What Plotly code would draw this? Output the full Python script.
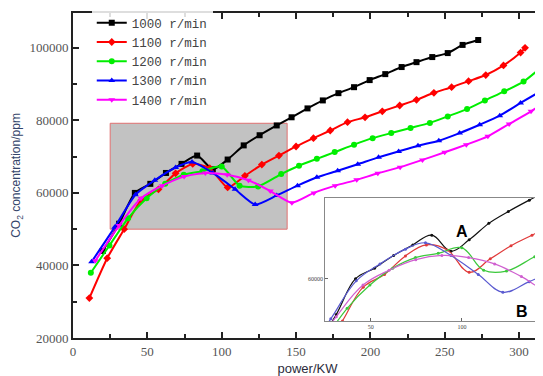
import plotly.graph_objects as go

# ---------------- data ----------------
names = ["1000 r/min", "1100 r/min", "1200 r/min", "1300 r/min", "1400 r/min"]

x1000 = [20, 31, 41.6, 52, 62.5, 73, 83.5, 94, 104, 114.8, 125.5, 137, 147, 157.7, 168,
         178.5, 189, 199.5, 210, 221, 231, 241.6, 252, 262, 272.5]
y1000 = [44000, 51500, 60000, 62500, 65500, 68000, 70300, 66500, 69200, 73100, 75900, 78600,
         80850, 83300, 85500, 87500, 89150, 91100, 92750, 94700, 96050, 97450, 98550, 100800, 102150]

x1100 = [11, 23, 34.4, 45.8, 57.5, 69, 80.5, 92, 104, 115.6, 127, 138.5, 150, 161.7, 173,
         184.6, 196.4, 208, 219.7, 231, 242.7, 254.6, 266, 277.6, 289.5, 301, 304]
y1100 = [31000, 42000, 50000, 58000, 61000, 65400, 68000, 66800, 61500, 64700, 67800, 70300,
         72800, 75100, 77200, 79500, 80850, 82500, 84100, 85650, 87600, 89150, 90800, 92500,
         95150, 98700, 100000]

x1200 = [12, 24.5, 37, 49.5, 62, 74.5, 87, 100, 112, 124.5, 140, 152, 164, 176, 189,
         201.5, 214, 227, 240, 252, 265, 277, 290, 303, 316]
y1200 = [38000, 45500, 53000, 58500, 62500, 65000, 66000, 67300, 62000, 61800, 65200, 67500,
         69400, 71250, 73300, 75100, 76500, 77900, 79300, 81100, 83100, 85500, 88000, 90700, 95000]

x1300 = [12.5, 28, 42, 55, 69, 80, 94, 109, 122.5, 137, 151, 164, 178, 191.5, 205.5, 219,
         232, 246, 260, 273.5, 287, 301, 316]
y1300 = [41000, 50500, 59500, 63500, 67000, 68500, 65500, 61000, 56800, 59300, 62000, 64300,
         66100, 67900, 69800, 71450, 73000, 74400, 76500, 78800, 81300, 84800, 88400]

x1400 = [15, 31, 45.7, 60, 74.7, 89, 103.7, 118, 132.7, 147.2, 162, 176.3, 190.8, 205, 220,
         235, 250, 264.5, 279, 293.3, 308, 316]
y1400 = [41300, 51000, 58500, 62000, 64500, 65500, 65000, 63500, 60500, 57300, 60000, 62000,
         63600, 65400, 67100, 69100, 71200, 73300, 75600, 79000, 82500, 84600]

xs = [x1000, x1100, x1200, x1300, x1400]
ys = [y1000, y1100, y1200, y1300, y1400]

x_ticks = [0, 50, 100, 150, 200, 250, 300]
y_ticks = [20000, 40000, 60000, 80000, 100000]
inset_x_ticks = [50, 100]
inset_y_ticks = [60000]
zoom_box_x = [25, 144]
zoom_box_y = [50000, 79200]

# ---------------- styles ----------------
main_colors = ["#000000", "#ff0000", "#00ee00", "#0000ff", "#ff00ff"]
inset_colors = ["#111111", "#e03a3a", "#3cc83c", "#5a5ad0", "#d060d0"]
symbols = ["square", "diamond", "circle", "triangle-up", "triangle-down"]

fig = go.Figure()

for i in range(5):
    fig.add_trace(go.Scatter(
        x=xs[i], y=ys[i], name=names[i], mode="lines+markers",
        line=dict(color=main_colors[i], width=2, shape="spline", smoothing=0.6),
        marker=dict(symbol=symbols[i], size=6, color=main_colors[i]),
        xaxis="x", yaxis="y",
    ))

# inset: magnified smooth curves
for i in range(5):
    fig.add_trace(go.Scatter(
        x=xs[i], y=ys[i], mode="lines+markers", showlegend=False,
        line=dict(color=inset_colors[i], width=1.2, shape="spline", smoothing=1.1),
        marker=dict(symbol="circle", size=3, color=inset_colors[i]),
        xaxis="x2", yaxis="y2", hoverinfo="skip",
    ))

fig.add_shape(type="rect", xref="x", yref="y",
              x0=zoom_box_x[0], x1=zoom_box_x[1], y0=zoom_box_y[0], y1=zoom_box_y[1],
              fillcolor="#c2c2c2", line=dict(color="#e07070", width=1), layer="below")

fig.add_annotation(x=100, y=71200, xref="x2", yref="y2", text="<b>A</b>", showarrow=False,
                   font=dict(family="Liberation Sans, Arial", size=16, color="#000"))
fig.add_annotation(x=133, y=52300, xref="x2", yref="y2", text="<b>B</b>", showarrow=False,
                   font=dict(family="Liberation Sans, Arial", size=16, color="#000"))

tickfont = dict(family="Liberation Serif, Times New Roman, serif", size=13, color="#555")
inset_tickfont = dict(family="Liberation Serif, serif", size=6, color="#444")

# the page body adds an 8px offset, so the figure is 8px smaller and margins shifted
fig.update_layout(
    width=535, height=368,
    margin=dict(l=65, r=0, t=4, b=32),
    paper_bgcolor="white", plot_bgcolor="white",
    xaxis=dict(range=[0, 315.4], tickvals=x_ticks, ticktext=[str(v) for v in x_ticks],
               ticks="inside", ticklen=6, tickwidth=1.5,
               tickcolor="#222", showline=True, linecolor="#222", linewidth=2, mirror="ticks",
               showgrid=False, zeroline=False, tickfont=tickfont,
               minor=dict(dtick=25, tick0=0, ticks="inside", ticklen=4, tickcolor="#222", showgrid=False),
               title=dict(text="power/KW", standoff=8,
                          font=dict(family="Liberation Sans, Arial", size=13, color="#2c2c3c"))),
    yaxis=dict(range=[20000, 109600], tickvals=y_ticks, ticktext=[str(v) for v in y_ticks],
               ticks="inside", ticklen=6, tickwidth=1.5,
               tickcolor="#222", showline=True, linecolor="#222", linewidth=2,
               showgrid=False, zeroline=False, tickfont=tickfont,
               minor=dict(dtick=10000, tick0=0, ticks="inside", ticklen=4, tickcolor="#222", showgrid=False),
               title=dict(text="CO<sub>2</sub> concentration/ppm", standoff=6,
                          font=dict(family="Liberation Sans, Arial", size=12, color="#34456a"))),
    xaxis2=dict(domain=[0.538, 1.0], anchor="y2", range=zoom_box_x, tickvals=inset_x_ticks,
                ticktext=[str(v) for v in inset_x_ticks],
                ticks="inside", ticklen=3, tickcolor="#666", showline=True, mirror=True,
                linecolor="#888", linewidth=1, showgrid=False, zeroline=False,
                tickfont=inset_tickfont),
    yaxis2=dict(domain=[0.0525, 0.432], anchor="x2", range=zoom_box_y, tickvals=inset_y_ticks,
                ticktext=[str(v) for v in inset_y_ticks],
                ticks="inside", ticklen=3, tickcolor="#666", showline=True, mirror=True,
                linecolor="#888", linewidth=1, showgrid=False, zeroline=False,
                tickfont=inset_tickfont),
    legend=dict(x=0.04, y=1.015, xanchor="left", yanchor="top",
                bgcolor="rgba(255,255,255,0.85)", tracegroupgap=0,
                font=dict(family="Liberation Mono, Courier New, monospace", size=12.5, color="#444")),
    showlegend=True,
)

fig.write_html("out.html")
